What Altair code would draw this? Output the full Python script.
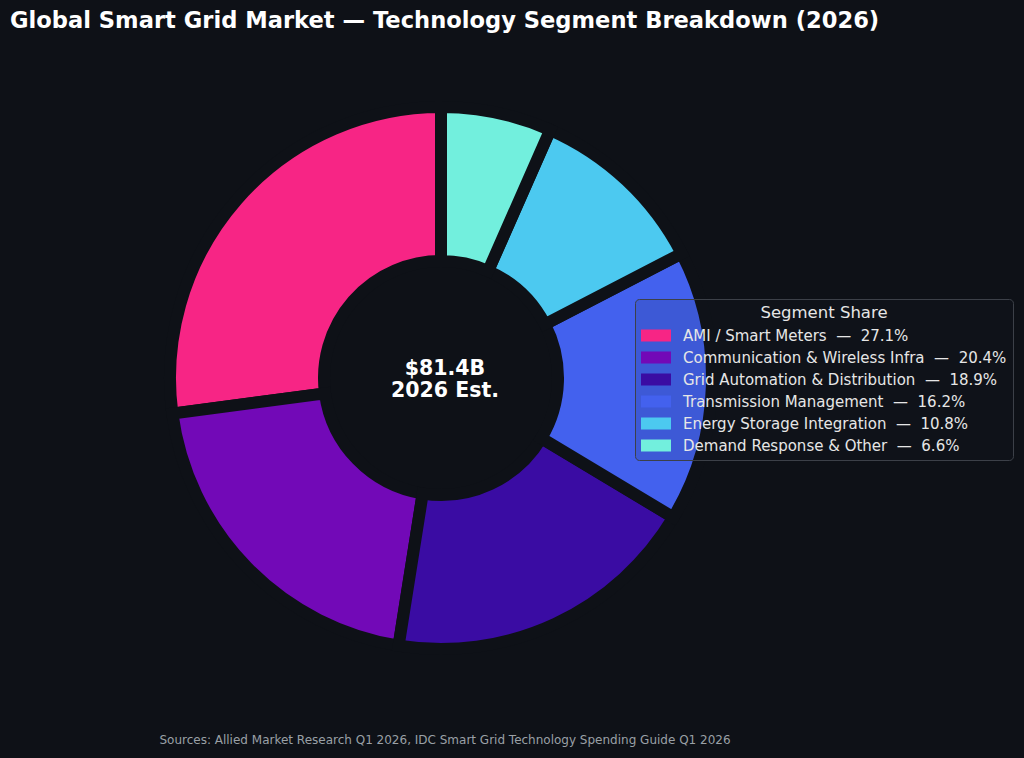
import altair as alt
import pandas as pd

segments = [
    "AMI / Smart Meters",
    "Communication & Wireless Infra",
    "Grid Automation & Distribution",
    "Transmission Management",
    "Energy Storage Integration",
    "Demand Response & Other",
]
shares = [27.1, 20.4, 18.9, 16.2, 10.8, 6.6]
colors = ["#f72585", "#7209b7", "#3a0ca3", "#4361ee", "#4cc9f0", "#72efdd"]

title_text = "Global Smart Grid Market \u2014 Technology Segment Breakdown (2026)"
center_text = "$81.4B\n2026 Est."
footer_text = "Sources: Allied Market Research Q1 2026, IDC Smart Grid Technology Spending Guide Q1 2026"

BG = "#0e1117"
NB = "\u00a0"
labels = [f"{s}{NB}{NB}\u2014{NB}{NB}{v}%" for s, v in zip(segments, shares)]

df = pd.DataFrame({"segment": segments, "share": shares, "label": labels,
                   "idx": list(range(len(segments)))})

CX, CY = 441, 378

arcs = alt.Chart(df).mark_arc(
    outerRadius=271, innerRadius=117, stroke=BG, strokeWidth=12
).encode(
    theta=alt.Theta("share:Q", stack=True),
    order=alt.Order("idx:Q", sort="descending"),
    color=alt.Color(
        "label:N",
        scale=alt.Scale(domain=labels, range=colors),
        legend=alt.Legend(
            title="Segment Share",
            orient="none",
            legendX=635,
            legendY=299,
            titleAnchor="middle",
            titleFontSize=16.5,
            titleFontWeight="normal",
            titleColor="#e6e6e6",
            titleFont="DejaVu Sans",
            titlePadding=5,
            labelFont="DejaVu Sans",
            labelFontSize=15,
            labelColor="#e6e6e6",
            labelLimit=600,
            symbolType="M-1.667,-0.667H1.667V0.667H-1.667Z",
            symbolSize=324,
            symbolStrokeWidth=0,
            symbolOpacity=1,
            symbolOffset=6,
            rowPadding=5,
            padding=6,
            labelOffset=18,
            fillColor="rgba(26,31,40,0.12)",
            strokeColor="#3c4048",
            cornerRadius=4,
        ),
    ),
    x=alt.value(CX),
    y=alt.value(CY),
)

center = alt.Chart(pd.DataFrame({"t": [center_text]})).mark_text(
    font="DejaVu Sans", fontSize=20.5, fontWeight="bold", color="white",
    align="center", baseline="middle", lineBreak="\n", lineHeight=22
).encode(
    text="t:N",
    x=alt.value(445),
    y=alt.value(369),
)

title = alt.Chart(pd.DataFrame({"t": [title_text]})).mark_text(
    font="DejaVu Sans", fontSize=22.6, fontWeight="bold", color="white",
    align="left", baseline="alphabetic"
).encode(text="t:N", x=alt.value(10), y=alt.value(28))

footer = alt.Chart(pd.DataFrame({"t": [footer_text]})).mark_text(
    font="DejaVu Sans", fontSize=12, color="#9aa0a6",
    align="center", baseline="alphabetic"
).encode(text="t:N", x=alt.value(445), y=alt.value(744))

chart = alt.layer(arcs, center, title, footer).properties(
    width=1024, height=758,
    autosize=alt.AutoSizeParams(type="none"),
    padding=0,
    background=BG,
).configure_view(stroke=None)

chart.save("out.html", embed_options={"renderer": "svg", "actions": False})
